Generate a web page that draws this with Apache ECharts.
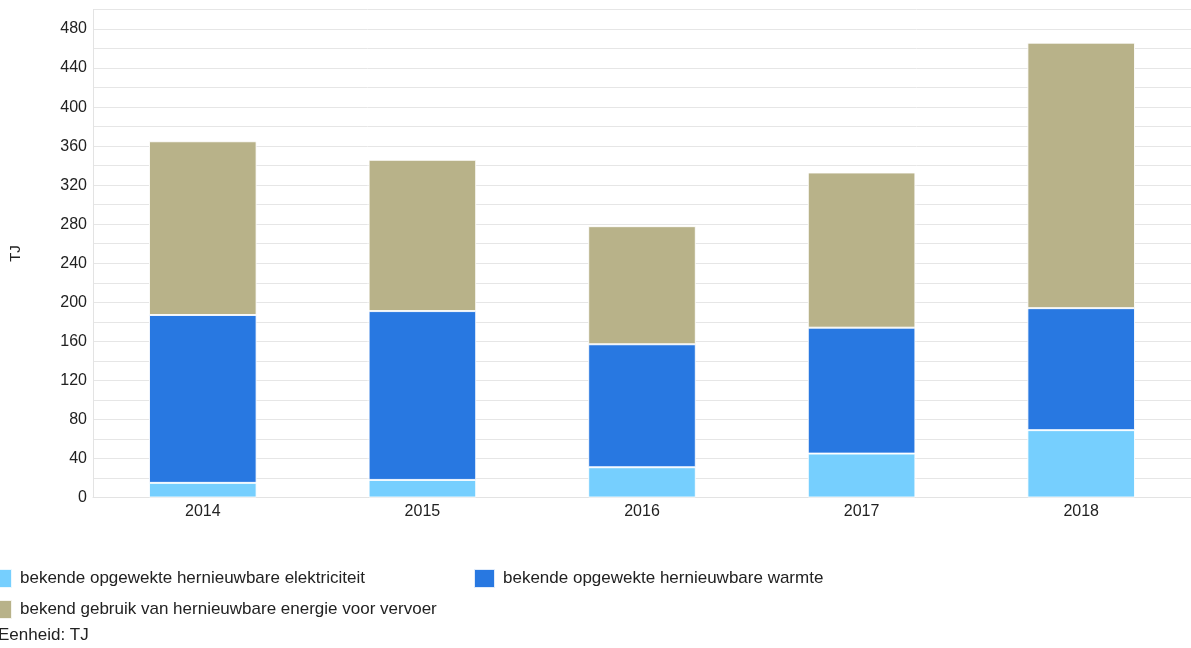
<!DOCTYPE html>
<html>
<head>
<meta charset="utf-8">
<script src="https://cdn.jsdelivr.net/npm/echarts@6/dist/echarts.min.js"></script>
<style>
html,body{margin:0;padding:0;background:#fff;}
#c{width:1191px;height:648px;}
</style>
</head>
<body>
<div id="c"></div>
<script>
const categories = ['2014','2015','2016','2017','2018'];
const seriesNames = [
  'bekende opgewekte hernieuwbare elektriciteit',
  'bekende opgewekte hernieuwbare warmte',
  'bekend gebruik van hernieuwbare energie voor vervoer'
];
const elektriciteit = [15, 18, 31, 45, 69];
const warmte = [172, 173, 126, 129, 125];
const vervoer = [178, 155, 121, 159, 272];
const yTickLabels = [0, 40, 80, 120, 160, 200, 240, 280, 320, 360, 400, 440, 480];
const unitText = 'Eenheid: TJ';
const axisName = 'TJ';

const colors = ['#76CFFE', '#2878E1', '#B8B289'];
const font = '"Liberation Sans", Arial, sans-serif';

const chart = echarts.init(document.getElementById('c'), null, {renderer: 'canvas'});
const mk = (name, data, color) => ({
  name: name, type: 'bar', stack: 'total', data: data, barWidth: '49%',
  itemStyle: {color: color, borderColor: 'rgba(255,255,255,0.85)', borderWidth: 1},
  emphasis: {disabled: true}
});
chart.setOption({
  animation: false,
  backgroundColor: '#fff',
  textStyle: {fontFamily: font},
  grid: {left: 93, right: -3, top: 9.5, bottom: 150.5, containLabel: false},
  xAxis: {
    type: 'category', data: categories,
    axisLine: {lineStyle: {color: '#e3e3e3', width: 1}},
    axisTick: {show: false},
    axisLabel: {color: '#222', fontSize: 16, fontFamily: font, margin: 6}
  },
  yAxis: {
    type: 'value', min: 0, max: 500, interval: 20,
    name: axisName, nameLocation: 'middle', nameGap: 70,
    nameTextStyle: {color: '#222', fontSize: 15, fontFamily: font},
    axisLine: {show: true, lineStyle: {color: '#e3e3e3', width: 1}},
    axisTick: {show: false},
    splitLine: {lineStyle: {color: '#e6e6e6', width: 1}},
    axisLabel: {
      color: '#222', fontSize: 16, fontFamily: font, margin: 6,
      formatter: v => (yTickLabels.indexOf(v) >= 0 ? String(v) : '')
    }
  },
  legend: [
    {
      data: [seriesNames[0], seriesNames[2]], orient: 'vertical', padding: 0,
      left: -9, top: 568, itemWidth: 20, itemHeight: 19, itemGap: 10,
      icon: 'rect', selectedMode: false,
      textStyle: {color: '#222', fontSize: 17, fontFamily: font, padding: [0, 0, 0, 3]}
    },
    {
      data: [seriesNames[1]], orient: 'vertical', padding: 0,
      left: 473, top: 568, itemWidth: 21, itemHeight: 19,
      icon: 'rect', selectedMode: false,
      textStyle: {color: '#222', fontSize: 17, fontFamily: font, padding: [0, 0, 0, 3]}
    }
  ],
  graphic: [{
    type: 'text', left: -2, top: 627,
    style: {text: unitText, fill: '#222', font: '17px ' + font}
  }],
  series: [
    mk(seriesNames[0], elektriciteit, colors[0]),
    mk(seriesNames[1], warmte, colors[1]),
    mk(seriesNames[2], vervoer, colors[2])
  ]
});
</script>
</body>
</html>
